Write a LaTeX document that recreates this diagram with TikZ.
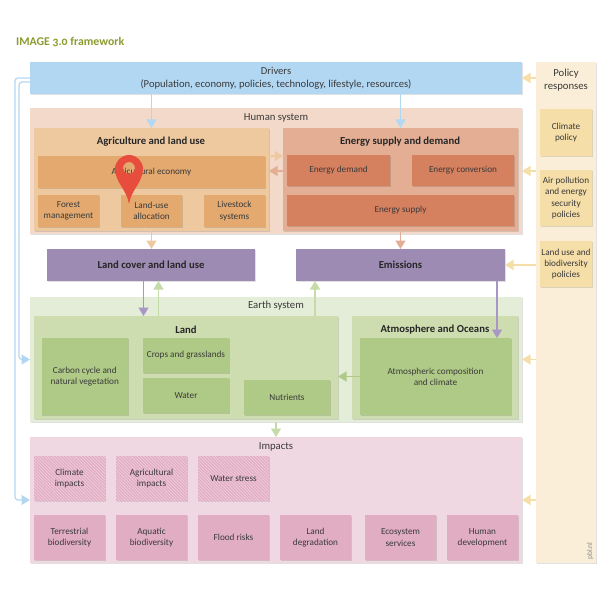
\documentclass[tikz,border=0pt]{standalone}
\usepackage{fontspec}
\setmainfont{Carlito}
\newfontfamily\titlefont[Numbers=OldStyle]{Carlito}
\usetikzlibrary{arrows.meta,patterns.meta,shadows,calc}
\definecolor{cdriver}{HTML}{B2D7F3}
\definecolor{cpanel}{HTML}{FAEED8}
\definecolor{chuman}{HTML}{F2D9C9}
\definecolor{cagri}{HTML}{EEC9A0}
\definecolor{cagrii}{HTML}{E3A96F}
\definecolor{cener}{HTML}{E3AE94}
\definecolor{cenerI}{HTML}{D5805F}
\definecolor{cpurple}{HTML}{9E8BB3}
\definecolor{cpurpleline}{HTML}{A896C6}
\definecolor{cearth}{HTML}{E4EDD8}
\definecolor{cland}{HTML}{CDDDB0}
\definecolor{cgreen}{HTML}{AFCA86}
\definecolor{cgreenline}{HTML}{C5DCA8}
\definecolor{cimp}{HTML}{F0D8E3}
\definecolor{cimpi}{HTML}{E1ADC3}
\definecolor{chatch}{HTML}{EFCBDA}
\definecolor{cpol}{HTML}{F5DEA8}
\definecolor{ctext}{HTML}{3A3A3A}
\definecolor{ctitle}{HTML}{8C9A2E}
\definecolor{cpin}{HTML}{E84C3D}
\tikzset{
  x=1pt,y=-1pt,
  base/.style={inner sep=0pt,outer sep=0pt,align=center,text=ctext,font=\fontsize{9.2}{11.2}\selectfont,
    drop shadow={shadow xshift=.7pt,shadow yshift=-.7pt,opacity=.12,fill=black}},
  label/.style={inner sep=0pt,outer sep=0pt,align=center,text=ctext,font=\fontsize{10.7}{13}\selectfont},
  hatchtext/.style={inner sep=0pt,outer sep=0pt,align=center,text=ctext,font=\fontsize{9.2}{11.2}\selectfont},
  head/.style={inner sep=0pt,outer sep=0pt,align=center,text=black!85,font=\fontsize{10.7}{12}\bfseries\selectfont},
  hatched/.style={base,fill=cimpi,postaction={pattern={Lines[angle=-45,distance=2.2pt,line width=.8pt]},pattern color=chatch}},
  link/.style={line width=1.2pt,-{Triangle[width=10pt,length=8.5pt]}},
  wire/.style={link,draw=cdriver,rounded corners=3pt},
}
\newcommand\mybox[7]{\node[#6,minimum width={(#4-#2)*1pt},minimum height={(#5-#3)*1pt}] (#1) at ({(#2+#4)/2},{(#3+#5)/2}) {#7};}
\begin{document}
\begin{tikzpicture}
\useasboundingbox (0,0) rectangle (611,599);
\node[inner sep=0pt,anchor=west,text=ctitle,font=\fontsize{11.8}{13}\bfseries\titlefont] (title) at (16,42) {IMAGE 3.0 framework};
% Containers
\mybox{panel}{536}{62}{596}{563}{base,fill=cpanel}{}
\mybox{drivers}{30}{62}{522}{94}{base,fill=cdriver,font=\fontsize{10.6}{12.6}\selectfont}{Drivers\\(Population, economy, policies, technology, lifestyle, resources)}
\mybox{human}{30}{108}{522}{234}{base,fill=chuman}{}
\mybox{agri}{34}{128}{269}{231}{base,fill=cagri}{}
\mybox{ener}{283}{128}{518}{231}{base,fill=cener}{}
\mybox{earth}{30}{297}{522}{422}{base,fill=cearth}{}
\mybox{land}{34}{316}{338}{419}{base,fill=cland}{}
\mybox{atm}{352}{316}{518}{419}{base,fill=cland}{}
\mybox{impacts}{30}{437}{522}{563}{base,fill=cimp}{}
% Headings
\node[label] (humanlab) at (276,118) {Human system};
\node[label] (earthlab) at (276,306) {Earth system};
\node[label] (implab) at (276,447) {Impacts};
\node[label] (pollab) at (566,80) {Policy\\responses};
\node[head] (agrilab) at (151,142) {Agriculture and land use};
\node[head] (enerlab) at (400,142) {Energy supply and demand};
\node[head] (landlab) at (186,330) {Land};
\node[head] (atmlab) at (435,330) {Atmosphere and Oceans};
% Agriculture
\mybox{agec}{38}{156}{265}{188}{base,fill=cagrii}{Agricultural economy}
\mybox{forest}{38}{195}{99}{227}{base,fill=cagrii}{Forest\\management}
\mybox{luse}{121}{195}{182}{227}{base,fill=cagrii}{Land-use\\allocation}
\mybox{live}{204}{195}{265}{227}{base,fill=cagrii}{Livestock\\systems}
% Energy
\mybox{edem}{287}{155}{390}{186}{base,fill=cenerI}{Energy demand}
\mybox{econ}{412}{155}{514}{186}{base,fill=cenerI}{Energy conversion}
\mybox{esup}{287}{195}{514}{226}{base,fill=cenerI}{Energy supply}
% Purple
\mybox{lc}{47}{249}{255}{281}{base,fill=cpurple,font=\fontsize{10.7}{12}\bfseries\selectfont,text=black!85}{Land cover and land use}
\mybox{em}{296}{249}{505}{281}{base,fill=cpurple,font=\fontsize{10.7}{12}\bfseries\selectfont,text=black!85}{Emissions}
% Land
\mybox{carbon}{41.5}{338}{128}{415}{base,fill=cgreen}{Carbon cycle and\\natural vegetation}
\mybox{crops}{143}{338}{229}{373}{base,fill=cgreen}{Crops and grasslands}
\mybox{water}{143}{378}{229}{413}{base,fill=cgreen}{Water}
\mybox{nutr}{244}{380}{330}{415}{base,fill=cgreen}{Nutrients}
\mybox{atmc}{360}{338}{511}{415}{base,fill=cgreen}{Atmospheric composition\\and climate}
% Impacts
\mybox{cimpb}{34}{456}{105}{501}{hatched}{}
\mybox{aimpb}{116}{456}{187}{501}{hatched}{}
\mybox{wstrb}{198}{456}{269}{501}{hatched}{}
\node[hatchtext] (cimpt) at (cimpb) {Climate\\impacts};
\node[hatchtext] (aimpt) at (aimpb) {Agricultural\\impacts};
\node[hatchtext] (wstrt) at (wstrb) {Water stress};
\mybox{terr}{34}{515}{105}{560}{base,fill=cimpi}{Terrestrial\\biodiversity}
\mybox{aqua}{116}{515}{187}{560}{base,fill=cimpi}{Aquatic\\biodiversity}
\mybox{flood}{198}{515}{269}{560}{base,fill=cimpi}{Flood risks}
\mybox{ldeg}{280}{515}{351}{560}{base,fill=cimpi}{Land\\degradation}
\mybox{eco}{365}{515}{436}{560}{base,fill=cimpi}{Ecosystem\\services}
\mybox{hum}{447}{515}{518}{560}{base,fill=cimpi}{Human\\development}
% Policy
\mybox{clim}{540}{109}{592}{156}{base,fill=cpol}{Climate\\policy}
\mybox{air}{540}{170}{592}{226}{base,fill=cpol}{Air pollution\\and energy\\security\\policies}
\mybox{lub}{540}{241}{592}{287}{base,fill=cpol}{Land use and\\biodiversity\\policies}
\node[inner sep=0pt,rotate=90,text=black!45,font=\fontsize{7.5}{8}\selectfont] (pbl) at (590,551) {pbl.nl};
% Connectors
\draw[link,draw=cdriver] (agri.north |- drivers.south) -- (agri.north);
\draw[link,draw=cdriver] (ener.north |- drivers.south) -- (ener.north);
\draw[wire] (drivers.west) -- (15,78) -- (15,500) -- (impacts.west);
\draw[wire] ([yshift=-4pt]drivers.west) -- (19,82) -- (19,359.5) -- (earth.west);
\draw[link,draw=cagri] (agri.east |- 0,156) -- (ener.west |- 0,156);
\draw[link,draw=cener] (ener.west |- 0,171) -- (agri.east |- 0,171);
\draw[link,draw=cagri] (agri.south) -- (agri.south |- lc.north);
\draw[link,draw=cener] (ener.south) -- (ener.south |- em.north);
\draw[link,draw=cpurpleline] ([xshift=-7.5pt]lc.south) -- ([xshift=-7.5pt]lc.south |- land.north);
\draw[link,draw=cgreenline] ([xshift=7.5pt]lc.south |- land.north) -- ([xshift=7.5pt]lc.south);
\draw[link,draw=cgreenline] ([xshift=-85.5pt]em.south |- land.north) -- ([xshift=-85.5pt]em.south);
\draw[link,draw=cpurpleline] ([xshift=96.5pt]em.south) -- ([xshift=96.5pt]em.south |- atmc.north);
\draw[link,draw=cgreen] (atmc.west) -- (land.east |- atmc.west);
\draw[link,draw=cgreenline] (earth.south) -- (impacts.north);
\draw[link,draw=cpol] (panel.west |- drivers.east) -- (drivers.east);
\draw[link,draw=cpol] (panel.west |- human.east) -- (human.east);
\draw[link,draw=cpol] (panel.west |- em.east) -- (em.east);
\draw[link,draw=cpol] (panel.west |- earth.east) -- (earth.east);
\draw[link,draw=cpol] (panel.west |- impacts.east) -- (impacts.east);
% Map pin
\fill[cpin,even odd rule] (129,204) .. controls (127,190) and (115,182) .. (115,169) .. controls (115,161.3) and (121.3,155) .. (129,155) .. controls (136.7,155) and (143,161.3) .. (143,169) .. controls (143,182) and (131,190) .. (129,204) -- cycle (129,168) circle[radius=6];
\end{tikzpicture}
\end{document}
